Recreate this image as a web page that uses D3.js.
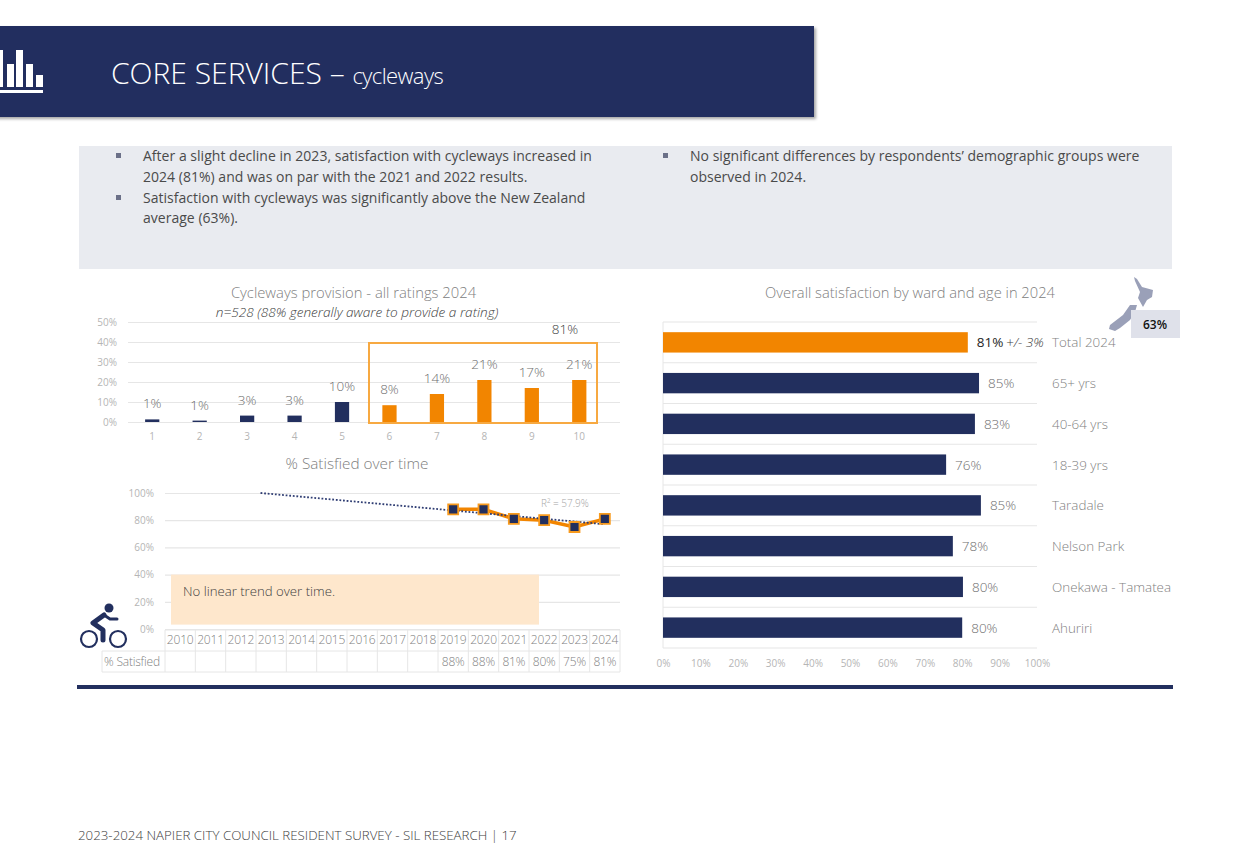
<!DOCTYPE html>
<html>
<head>
<meta charset="utf-8">
<script src="https://cdn.jsdelivr.net/npm/d3@7"></script>
<style>
    body { margin: 0; background: #fff; }
    svg { display: block; }
    text { font-family: "Open Sans", "Noto Sans", sans-serif; }
</style>
</head>
<body>
<div id="chart"></div>
<script>
// Ratings chart data.
const ratingCategories = ["1", "2", "3", "4", "5", "6", "7", "8", "9", "10"];
const ratingValues = [1.3, 0.7, 3.2, 3.2, 10, 8.4, 14, 21, 17, 21];
const ratingLabels = ["1%", "1%", "3%", "3%", "10%", "8%", "14%", "21%", "17%", "21%"];
const ratingTicks = [0, 10, 20, 30, 40, 50];

// Satisfaction over time data.
const years = [2010, 2011, 2012, 2013, 2014, 2015, 2016, 2017, 2018, 2019, 2020, 2021, 2022, 2023, 2024];
const satisfiedYears = [2019, 2020, 2021, 2022, 2023, 2024];
const satisfiedValues = [88, 88, 81, 80, 75, 81];
const trendYears = [2012.65, 2024];
const trendValues = [100, 77];
const timeTicks = [0, 20, 40, 60, 80, 100];

// Ward and age data.
const groupNames = ["Total 2024", "65+ yrs", "40-64 yrs", "18-39 yrs", "Taradale", "Nelson Park", "Onekawa - Tamatea", "Ahuriri"];
const groupValues = [81.5, 84.5, 83.4, 75.7, 85, 77.5, 80.2, 80];
const groupLabels = ["81%", "85%", "83%", "76%", "85%", "78%", "80%", "80%"];
const groupTicks = [0, 10, 20, 30, 40, 50, 60, 70, 80, 90, 100];

const navy = "#222F5E";
const orange = "#F28500";
const textGrey = "#7F7F7F";
const tickGrey = "#B5B5B5";
const gridGrey = "#E6E6E6";

const svg = d3.select("#chart").append("svg")
    .attr("width", 1250)
    .attr("height", 863);

// Shadow for the header band.
const shadow = svg.append("defs").append("filter").attr("id", "shadow");
shadow.append("feDropShadow")
    .attr("dx", 2).attr("dy", 2)
    .attr("stdDeviation", 1.5)
    .attr("flood-color", "#000")
    .attr("flood-opacity", 0.35);

// Header.
svg.append("rect")
    .attr("x", -10).attr("y", 26)
    .attr("width", 824).attr("height", 91)
    .attr("fill", navy)
    .attr("filter", "url(#shadow)");

svg.append("path")
    .attr("fill", "#fff")
    .attr("d", "M0 50h3v37h-3z M7 64h7v23h-7z M16 50h7v37h-7z M26 64h7v23h-7z M36 75h7v12h-7z M0 90h43v3h-43z");

let title = svg.append("text")
    .attr("x", 111).attr("y", 84)
    .attr("fill", "#fff")
    .style("font-weight", 300)
    .style("font-size", "30px")
    .style("letter-spacing", "0px");
title.append("tspan").text("CORE SERVICES \u2013 ");
title.append("tspan").style("font-size", "22px").style("letter-spacing", "-0.6px").text("cycleways");

// Commentary panel.
svg.append("rect")
    .attr("x", 79).attr("y", 146)
    .attr("width", 1093).attr("height", 123)
    .attr("fill", "#E9EBF0");

const leftLines = [
    [true, "After a slight decline in 2023, satisfaction with cycleways increased in", 161],
    [false, "2024 (81%) and was on par with the 2021 and 2022 results.", 182],
    [true, "Satisfaction with cycleways was significantly above the New Zealand", 203],
    [false, "average (63%).", 223]
];
const rightLines = [
    [true, "No significant differences by respondents\u2019 demographic groups were", 161],
    [false, "observed in 2024.", 182]
];

function panelText(lines, bulletX, textX) {
    lines.forEach(line => {
        if (line[0]) {
            svg.append("rect").attr("x", bulletX).attr("y", line[2] - 8)
                .attr("width", 5).attr("height", 5).attr("fill", "#6B7088");
        }
        svg.append("text").attr("x", textX).attr("y", line[2])
            .attr("fill", "#4A4A4A").style("font-size", "14px").style("letter-spacing", "0.02px").text(line[1]);
    });
}
panelText(leftLines, 116, 143);
panelText(rightLines, 663, 690);

function chartTitle(label, x, y, size) {
    svg.append("text")
        .attr("x", x).attr("y", y)
        .attr("text-anchor", "middle")
        .attr("fill", "#808080")
        .style("font-size", size + "px")
        .style("font-weight", 300)
        .text(label);
}

// Restyle an axis group into plain grey ticks and light gridlines.
function styleAxis(g, size) {
    g.select(".domain").remove();
    g.selectAll("line").attr("stroke", gridGrey).attr("stroke-width", 1.2);
    g.selectAll("text")
        .attr("fill", tickGrey)
        .style("font-size", size + "px");
}

// Ratings chart.
chartTitle("Cycleways provision - all ratings 2024", 353.5, 298, 14.8);
svg.append("text")
    .attr("x", 357).attr("y", 317)
    .attr("text-anchor", "middle")
    .attr("fill", "#404040")
    .style("font-size", "13.6px")
    .style("font-style", "italic")
    .style("font-weight", 300)
    .text("n=528 (88% generally aware to provide a rating)");

let ratingX = d3.scaleBand()
    .domain(ratingCategories)
    .range([128.5, 603])
    .paddingInner(0.7)
    .paddingOuter(0.35);
let ratingY = d3.scaleLinear().domain([0, 50]).range([422, 322]);

svg.append("g")
    .attr("transform", "translate(128,0)")
    .call(d3.axisLeft(ratingY).tickValues(ratingTicks).tickFormat(d => d + "%").tickSize(-492).tickPadding(11))
    .call(g => styleAxis(g, 10));

svg.append("g")
    .attr("transform", "translate(0,422)")
    .call(d3.axisBottom(ratingX).tickSize(0).tickPadding(11))
    .call(g => styleAxis(g, 10));

svg.append("g")
    .selectAll("rect")
    .data(ratingCategories)
    .enter().append("rect")
    .attr("x", d => ratingX(d))
    .attr("y", (d, i) => ratingY(ratingValues[i]))
    .attr("width", ratingX.bandwidth())
    .attr("height", (d, i) => ratingY(0) - ratingY(ratingValues[i]))
    .attr("fill", (d, i) => i < 5 ? navy : orange);

svg.append("g")
    .selectAll("text")
    .data(ratingCategories)
    .enter().append("text")
    .attr("x", d => ratingX(d) + ratingX.bandwidth() / 2)
    .attr("y", (d, i) => ratingY(ratingValues[i]) - 11)
    .attr("text-anchor", "middle")
    .attr("fill", "#6E6E6E")
    .style("font-size", "13.5px")
    .style("font-weight", 300)
    .text((d, i) => ratingLabels[i]);

// Box around the 6-10 ratings.
svg.append("rect")
    .attr("x", 369).attr("y", ratingY(40) + 1)
    .attr("width", 228).attr("height", ratingY(0) - ratingY(40))
    .attr("fill", "none")
    .attr("stroke", "#F7A941")
    .attr("stroke-width", 2);
svg.append("text")
    .attr("x", 565).attr("y", 334)
    .attr("text-anchor", "middle")
    .attr("fill", "#404040")
    .style("font-size", "13.5px")
    .style("font-weight", 300)
    .text("81%");

// Satisfaction over time.
chartTitle("% Satisfied over time", 357, 469, 15.3);

let timeX = d3.scaleBand().domain(years).range([165, 620]);
let timeY = d3.scaleLinear().domain([0, 100]).range([629, 493]);
const yearCentre = y => timeX(2010) + (y - 2010 + 0.5) * timeX.step();

svg.append("g")
    .attr("transform", "translate(165,0)")
    .call(d3.axisLeft(timeY).tickValues(timeTicks).tickFormat(d => d + "%").tickSize(-455).tickPadding(11))
    .call(g => styleAxis(g, 10));

svg.append("rect")
    .attr("x", 171).attr("y", timeY(40))
    .attr("width", 368).attr("height", 50)
    .attr("fill", "#FEE7CC");
svg.append("text")
    .attr("x", 183).attr("y", 596)
    .attr("fill", "#404040")
    .style("font-size", "13.2px")
    .style("font-weight", 300)
    .text("No linear trend over time.");

let timeLine = d3.line()
    .x(d => yearCentre(d[0]))
    .y(d => timeY(d[1]));

svg.append("path")
    .datum(d3.zip(satisfiedYears, satisfiedValues))
    .attr("d", timeLine)
    .attr("fill", "none")
    .attr("stroke", orange)
    .attr("stroke-width", 3.5);

svg.append("path")
    .datum(d3.zip(trendYears, trendValues))
    .attr("d", timeLine)
    .attr("fill", "none")
    .attr("stroke", "#2F3D73")
    .attr("stroke-width", 1.8)
    .attr("stroke-dasharray", "1.8 1.8");

svg.append("g")
    .selectAll("path")
    .data(d3.zip(satisfiedYears, satisfiedValues))
    .enter().append("path")
    .attr("d", d3.symbol(d3.symbolSquare, 100))
    .attr("transform", d => `translate(${yearCentre(d[0])},${timeY(d[1])})`)
    .attr("fill", navy)
    .attr("stroke", "#F79A1E")
    .attr("stroke-width", 1.8);

svg.append("text")
    .attr("x", 565).attr("y", 507)
    .attr("text-anchor", "middle")
    .attr("fill", "#A6A6A6")
    .style("font-size", "10px")
    .style("font-weight", 300)
    .text("R\u00B2 = 57.9%");

// Table under the line chart.
let table = svg.append("g");
const rowTop = 630, rowMid = 651, rowBottom = 672, labelLeft = 102;

[rowTop, rowMid, rowBottom].forEach((y, i) => {
    table.append("line")
        .attr("x1", i === 0 ? timeX(2010) : labelLeft).attr("x2", 620)
        .attr("y1", y).attr("y2", y)
        .attr("stroke", gridGrey);
});
table.selectAll("line.col")
    .data(years.concat([2025]))
    .enter().append("line")
    .attr("class", "col")
    .attr("x1", d => yearCentre(d) - timeX.step() / 2)
    .attr("x2", d => yearCentre(d) - timeX.step() / 2)
    .attr("y1", rowTop).attr("y2", rowBottom)
    .attr("stroke", gridGrey);
table.append("line")
    .attr("x1", labelLeft).attr("x2", labelLeft)
    .attr("y1", rowMid).attr("y2", rowBottom)
    .attr("stroke", gridGrey);

table.selectAll("text.year")
    .data(years)
    .enter().append("text")
    .attr("class", "year")
    .attr("x", d => yearCentre(d))
    .attr("y", 644)
    .attr("text-anchor", "middle")
    .attr("fill", textGrey)
    .style("font-size", "12px")
    .style("font-weight", 300)
    .style("letter-spacing", "-0.2px")
    .text(d => d);

table.selectAll("text.val")
    .data(d3.zip(satisfiedYears, satisfiedValues))
    .enter().append("text")
    .attr("class", "val")
    .attr("x", d => yearCentre(d[0]))
    .attr("y", 666)
    .attr("text-anchor", "middle")
    .attr("fill", textGrey)
    .style("font-size", "12px")
    .style("font-weight", 300)
    .style("letter-spacing", "-0.2px")
    .text(d => d[1] + "%");

table.append("text")
    .attr("x", 104).attr("y", 666)
    .attr("fill", textGrey)
    .style("font-size", "12px")
    .style("font-weight", 300)
    .style("letter-spacing", "-0.2px")
    .text("% Satisfied");

// Bike icon.
let bike = svg.append("g");
[89, 118].forEach(cx => {
    bike.append("circle")
        .attr("cx", cx).attr("cy", 639).attr("r", 8)
        .attr("fill", "none").attr("stroke", navy).attr("stroke-width", 2.2);
});
bike.append("circle").attr("cx", 109).attr("cy", 608).attr("r", 4.5).attr("fill", navy);
bike.append("path")
    .attr("d", "M104 615 L93 623 L103 630 L103 640")
    .attr("fill", "none").attr("stroke", navy)
    .attr("stroke-width", 5).attr("stroke-linejoin", "round").attr("stroke-linecap", "round");
bike.append("path")
    .attr("d", "M104 615 L110 619 L117 619")
    .attr("fill", "none").attr("stroke", navy)
    .attr("stroke-width", 3).attr("stroke-linecap", "round");

// Ward and age chart.
chartTitle("Overall satisfaction by ward and age in 2024", 910, 298, 14.7);

let groupX = d3.scaleLinear().domain([0, 100]).range([663, 1037]);
let groupY = d3.scaleBand()
    .domain(groupNames)
    .range([322, 648])
    .paddingInner(0.5)
    .paddingOuter(0.25);

svg.append("g")
    .selectAll("line")
    .data(d3.range(groupNames.length + 1))
    .enter().append("line")
    .attr("x1", groupX(0)).attr("x2", groupX(100))
    .attr("y1", d => 322 + d * groupY.step())
    .attr("y2", d => 322 + d * groupY.step())
    .attr("stroke", gridGrey)
    .attr("stroke-width", 1.2);
svg.append("line")
    .attr("x1", groupX(0)).attr("x2", groupX(0))
    .attr("y1", 322).attr("y2", 648)
    .attr("stroke", gridGrey);

svg.append("g")
    .attr("transform", "translate(0,648)")
    .call(d3.axisBottom(groupX).tickValues(groupTicks).tickFormat(d => d + "%").tickSize(0).tickPadding(12))
    .call(g => styleAxis(g, 10));

svg.append("g")
    .selectAll("rect")
    .data(groupNames)
    .enter().append("rect")
    .attr("x", groupX(0))
    .attr("y", d => groupY(d))
    .attr("width", (d, i) => groupX(groupValues[i]) - groupX(0))
    .attr("height", groupY.bandwidth())
    .attr("fill", (d, i) => i === 0 ? orange : navy);

svg.append("g")
    .selectAll("text")
    .data(groupNames)
    .enter().append("text")
    .attr("x", (d, i) => groupX(groupValues[i]) + 9)
    .attr("y", d => groupY(d) + groupY.bandwidth() / 2 + 5)
    .attr("fill", (d, i) => i === 0 ? "#262626" : "#6E6E6E")
    .style("font-size", "13.5px")
    .style("font-weight", (d, i) => i === 0 ? 400 : 300)
    .text((d, i) => groupLabels[i]);

svg.append("text")
    .attr("x", 1006).attr("y", groupY(groupNames[0]) + groupY.bandwidth() / 2 + 5)
    .attr("fill", "#404040")
    .style("font-size", "13.5px")
    .style("font-style", "italic")
    .style("font-weight", 300)
    .text("+/- 3%");

svg.append("g")
    .selectAll("text")
    .data(groupNames)
    .enter().append("text")
    .attr("x", 1052)
    .attr("y", d => groupY(d) + groupY.bandwidth() / 2 + 5)
    .attr("fill", textGrey)
    .style("font-size", "13.4px")
    .style("font-weight", 300)
    .text(d => d);

// New Zealand map and benchmark.
svg.append("path")
    .attr("d", "M1134 277 L1137 279 L1142 287 L1153 290 L1152 297 L1147 300 L1143 307 L1138 298 L1140 292 L1135 281 Z M1130 305 L1137 305 L1135 312 L1130 320 L1120 328 L1115 331 L1109 329 L1110 325 L1123 315 Z")
    .attr("fill", "#9AA0B8");
svg.append("rect")
    .attr("x", 1131).attr("y", 310)
    .attr("width", 49).attr("height", 28)
    .attr("fill", "#DFE1EA");
svg.append("text")
    .attr("x", 1155).attr("y", 329)
    .attr("text-anchor", "middle")
    .attr("fill", "#111")
    .style("font-size", "12px")
    .style("font-weight", 600)
    .text("63%");

// Bottom rule and footer.
svg.append("rect")
    .attr("x", 77).attr("y", 685)
    .attr("width", 1096).attr("height", 4)
    .attr("fill", navy);
svg.append("text")
    .attr("x", 78).attr("y", 840)
    .attr("fill", "#404040")
    .style("font-size", "13.3px")
    .style("font-weight", 300)
    .text("2023-2024 NAPIER CITY COUNCIL RESIDENT SURVEY - SIL RESEARCH | 17");
</script>
</body>
</html>
